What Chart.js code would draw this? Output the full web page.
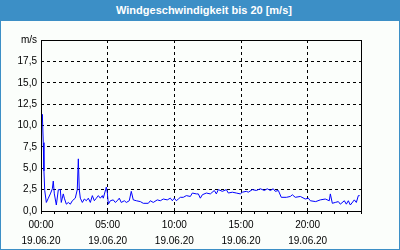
<!DOCTYPE html>
<html>
<head>
<meta charset="utf-8">
<script src="https://cdn.jsdelivr.net/npm/chart.js@4/dist/chart.umd.min.js"></script>
<style>
  html, body { margin: 0; padding: 0; background: #fff; }
  #frame {
    width: 400px; height: 250px; box-sizing: border-box;
    border: 1px solid #3c8fc6; border-top: none; background: #fbfefb;
  }
  #head {
    height: 21px; margin: 0 -1px; background: #3c8fc6; color: #fff;
    font: bold 11px "Liberation Sans", Arial, sans-serif;
    text-align: center; line-height: 20px; padding-left: 8px;
  }
  #wrap { position: relative; width: 398px; height: 228px; }
</style>
</head>
<body>
<div id="frame">
  <div id="head">Windgeschwindigkeit bis 20 [m/s]</div>
  <div id="wrap"><canvas id="chart"></canvas></div>
</div>
<script>
// hours since 00:00 on 19.06.20 and wind speed in m/s
const hours = [
  0.0, 0.1, 0.17, 0.22, 0.28, 0.4, 0.55, 0.7, 0.85, 0.92, 1.0, 1.15, 1.3, 1.45, 1.52,
  1.67, 1.75, 1.9, 2.05, 2.2, 2.35, 2.57, 2.72, 2.8, 2.87, 2.95, 3.1, 3.25, 3.4, 3.55,
  3.7, 3.85, 4.0, 4.15, 4.3, 4.45, 4.6, 4.67, 4.9, 4.97, 5.05, 5.2, 5.42, 5.57, 5.72,
  5.87, 6.02, 6.25, 6.4, 6.62, 6.77, 6.92, 7.15, 7.45, 7.67, 8.05, 8.2, 8.42, 8.72, 8.95,
  9.17, 9.47, 9.7, 9.85, 10.0, 10.15, 10.3, 10.45, 10.67, 10.9, 11.2, 11.35, 11.65, 11.8, 11.95,
  12.1, 12.4, 12.7, 13.0, 13.15, 13.3, 13.6, 13.9, 14.05, 14.35, 14.65, 14.95, 15.1, 15.4, 15.55,
  15.85, 16.15, 16.45, 16.75, 16.97, 17.2, 17.42, 17.57, 17.8, 18.02, 18.4, 18.7, 18.85, 19.07, 19.45,
  19.82, 20.05, 20.2, 20.6, 20.95, 21.32, 21.62, 21.7, 21.85, 22.07, 22.3, 22.45, 22.75, 22.9, 23.05,
  23.2, 23.5, 23.65, 23.8, 23.9
];
const speeds = [
  10.0, 11.3, 8.0, 4.7, 2.4, 1.0, 1.5, 2.0, 2.6, 3.5, 2.0, 0.7, 2.5, 2.5, 1.0,
  2.0, 1.5, 0.8, 1.0, 0.8, 1.2, 1.5, 2.5, 6.1, 2.5, 1.5, 1.0, 1.4, 1.2, 1.5,
  1.0, 1.8, 1.2, 1.5, 1.8, 1.5, 1.8, 1.5, 2.8, 2.2, 0.8, 1.2, 1.3, 1.0, 1.2,
  1.5, 1.0, 1.2, 1.0, 1.2, 2.3, 1.3, 1.2, 1.1, 0.9, 0.9, 1.2, 1.0, 1.3, 1.2,
  1.4, 1.3, 1.5, 1.2, 1.5, 1.2, 1.4, 1.6, 1.6, 1.8, 1.7, 2.1, 2.0, 2.0, 1.5,
  1.9, 2.1, 2.0, 2.4, 2.0, 2.5, 2.3, 2.5, 2.1, 2.2, 2.1, 2.0, 2.2, 2.3, 2.2,
  2.5, 2.4, 2.6, 2.4, 2.6, 2.4, 2.6, 2.3, 2.4, 1.6, 1.6, 1.7, 1.9, 1.6, 1.7,
  1.4, 1.5, 1.2, 1.1, 1.3, 1.4, 1.2, 2.0, 0.9, 1.0, 1.1, 0.8, 1.2, 0.8, 1.2,
  0.7, 1.3, 1.0, 1.8, 1.8
];
const timeLabels = { 0: '00:00', 5: '05:00', 10: '10:00', 15: '15:00', 20: '20:00' };
const dateLabel = '19.06.20';

const points = hours.map((h, i) => ({ x: h, y: speeds[i] }));

// solid frame round the plot area
const frameBox = {
  id: 'frameBox',
  afterDraw(chart) {
    const { ctx, chartArea: a } = chart;
    ctx.save();
    ctx.strokeStyle = '#000';
    ctx.lineWidth = 1;
    ctx.strokeRect(Math.round(a.left) + 0.5, Math.round(a.top) + 0.5,
      Math.round(a.right - a.left), Math.round(a.bottom - a.top));
    ctx.restore();
  }
};

const font = { family: '"Liberation Sans", Arial, sans-serif', size: 10 };

new Chart(document.getElementById('chart'), {
  type: 'line',
  data: {
    datasets: [{
      data: points,
      borderColor: '#0000ff',
      borderWidth: 1,
      pointRadius: 0,
      tension: 0,
      fill: false
    }]
  },
  options: {
    responsive: true,
    maintainAspectRatio: false,
    animation: false,
    layout: { padding: { top: 19, right: 38, left: 0, bottom: 0 } },
    plugins: { legend: { display: false }, tooltip: { enabled: false } },
    scales: {
      x: {
        type: 'linear',
        min: 0,
        max: 24,
        afterFit: (s) => { s.height = 38; },
        ticks: {
          stepSize: 1,
          autoSkip: false,
          maxRotation: 0,
          color: '#000',
          font: { ...font, lineHeight: 1.6 },
          padding: 3,
          callback: (v) => (timeLabels[v] !== undefined ? [timeLabels[v], dateLabel] : '')
        },
        grid: {
          color: (c) => (c.tick && c.tick.value % 5 === 0 ? '#000' : 'rgba(0,0,0,0)'),
          tickColor: '#000',
          tickLength: 3,
          lineWidth: 1
        },
        border: { display: false, dash: [3, 3] }
      },
      y: {
        min: 0,
        max: 20,
        afterFit: (s) => { s.width = 40; },
        ticks: {
          stepSize: 2.5,
          color: '#000',
          font: font,
          padding: 4,
          callback: (v) => (v === 20 ? 'm/s' : v.toFixed(1).replace('.', ','))
        },
        grid: { color: '#000', drawTicks: false, lineWidth: 1 },
        border: { display: false, dash: [3, 3] }
      }
    }
  },
  plugins: [frameBox]
});
</script>
</body>
</html>
